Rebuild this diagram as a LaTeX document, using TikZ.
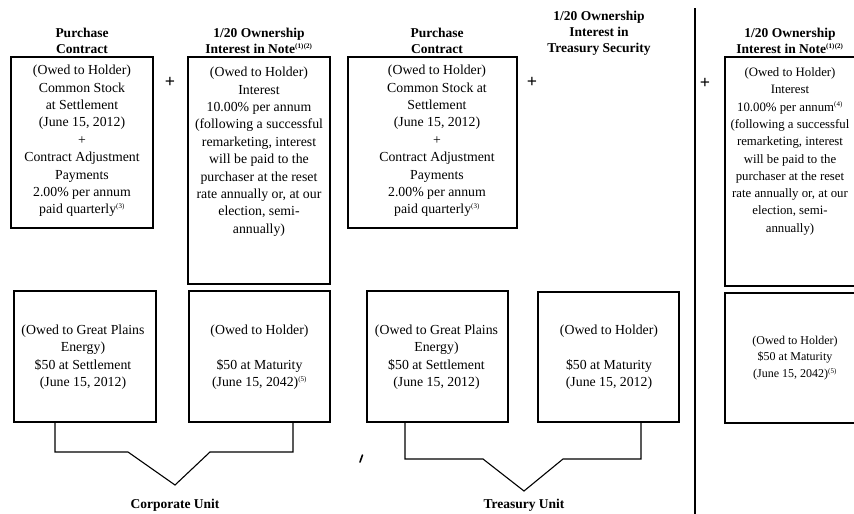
\documentclass[tikz,border=0pt]{standalone}
\usepackage{fontspec}
\setmainfont{Liberation Serif}
\newcommand{\fnm}[1]{\textsuperscript{\fontsize{7pt}{7pt}\selectfont(#1)}}
\begin{document}
\begin{tikzpicture}[x=1pt,y=-1pt,
  boxst/.style={draw, line width=1.1pt, inner sep=0pt},
  txt/.style={align=center, inner sep=0pt, font=\fontsize{13.8pt}{17.4pt}\selectfont},
  txtb/.style={align=center, inner sep=0pt, font=\fontsize{12.8pt}{17.3pt}\selectfont},
  txtc/.style={align=center, inner sep=0pt, font=\fontsize{12pt}{16.6pt}\selectfont},
  hd/.style={align=center, inner sep=0pt, font=\bfseries\fontsize{13.5pt}{16pt}\selectfont},
  plus/.style={inner sep=0pt, font=\bfseries\fontsize{18pt}{18pt}\selectfont},
  conn/.style={draw, line width=1.1pt, line join=miter},
  divline/.style={draw, line width=1.2pt}]
\useasboundingbox (0,0) rectangle (854,514);
\clip (0,0) rectangle (854,514);

% headers
\node[hd] (h1) at (82,41) {Purchase\\Contract};
\node[hd] (h2) at (259,41) {1/20 Ownership\\Interest in Note\fnm{1}\fnm{2}};
\node[hd] (h3) at (437,41) {Purchase\\Contract};
\node[hd] (h4) at (599,33) {1/20 Ownership\\Interest in\\Treasury Security};
\node[hd] (h5) at (790,41) {1/20 Ownership\\Interest in Note\fnm{1}\fnm{2}};

% upper boxes
\node[boxst, minimum width=142pt, minimum height=171pt] (b1u) at (82,142.5) {};
\node[boxst, minimum width=142pt, minimum height=227pt] (b2u) at (259,170.5) {};
\node[boxst, minimum width=169pt, minimum height=171pt] (b3u) at (432.5,142.5) {};
\node[boxst, minimum width=145pt, minimum height=229pt] (b5u) at (797.5,171.5) {};

\node[txt] (t1u) at (82,141) {(Owed to Holder)\\Common Stock\\at Settlement\\(June 15, 2012)\\+\\Contract Adjustment\\Payments\\2.00\% per annum\\paid quarterly\fnm{3}};
\node[txt, anchor=north] (t2u) at (259,67) {(Owed to Holder)\\Interest\\10.00\% per annum\\(following a successful\\remarketing, interest\\will be paid to the\\purchaser at the reset\\rate annually or, at our\\election, semi-\\annually)};
\node[txt] (t3u) at (437,141) {(Owed to Holder)\\Common Stock at\\Settlement\\(June 15, 2012)\\+\\Contract Adjustment\\Payments\\2.00\% per annum\\paid quarterly\fnm{3}};
\node[txtb, anchor=north] (t5u) at (790,67.5) {(Owed to Holder)\\Interest\\10.00\% per annum\fnm{4}\\(following a successful\\remarketing, interest\\will be paid to the\\purchaser at the reset\\rate annually or, at our\\election, semi-\\annually)};

% plus signs
\node[plus] (p1) at (170,82) {+};
\node[plus] (p2) at (532,82) {+};
\node[plus] (p3) at (705,83) {+};

% lower boxes
\node[boxst, minimum width=142pt, minimum height=131pt] (b1l) at (85,356.5) {};
\node[boxst, minimum width=141pt, minimum height=131pt] (b2l) at (259.5,356.5) {};
\node[boxst, minimum width=141pt, minimum height=131pt] (b3l) at (437.5,356.5) {};
\node[boxst, minimum width=141pt, minimum height=130pt] (b4l) at (608.5,357) {};
\node[boxst, minimum width=145pt, minimum height=130pt] (b5l) at (797.5,358) {};

\node[txt] (t1l) at (83,357) {(Owed to Great Plains\\Energy)\\\$50 at Settlement\\(June 15, 2012)};
\node[txt] (t2l) at (259.5,357) {(Owed to Holder)\\\mbox{}\\\$50 at Maturity\\(June 15, 2042)\fnm{5}};
\node[txt] (t3l) at (436.5,357) {(Owed to Great Plains\\Energy)\\\$50 at Settlement\\(June 15, 2012)};
\node[txt] (t4l) at (609,357) {(Owed to Holder)\\\mbox{}\\\$50 at Maturity\\(June 15, 2012)};
\node[txtc] (t5l) at (795,358) {(Owed to Holder)\\\$50 at Maturity\\(June 15, 2042)\fnm{5}};

% brackets
\coordinate (cu1) at (55,452);
\coordinate (cu2) at (128,452);
\coordinate (cu3) at (175,485);
\coordinate (cu4) at (210,452);
\coordinate (cu5) at (293,452);
\draw[conn] (b1l.south -| cu1) -- (cu1) -- (cu2) -- (cu3) -- (cu4) -- (cu5) -- (b2l.south -| cu5);

\coordinate (tu1) at (405,459);
\coordinate (tu2) at (483,459);
\coordinate (tu3) at (524,491);
\coordinate (tu4) at (563,459);
\coordinate (tu5) at (641,459);
\draw[conn] (b3l.south -| tu1) -- (tu1) -- (tu2) -- (tu3) -- (tu4) -- (tu5) -- (b4l.south -| tu5);

\node[hd] (lcu) at (175,505) {Corporate Unit};
\node[hd] (ltu) at (524,505) {Treasury Unit};

% divider
\coordinate (dtop) at (695,8);
\coordinate (dbot) at (695,514);
\draw[divline] (dtop) -- (dbot);

% stray mark
\coordinate (sm1) at (360,462);
\coordinate (sm2) at (362.5,455);
\draw[line width=1.6pt, line cap=round] (sm1) -- (sm2);
\end{tikzpicture}
\end{document}
